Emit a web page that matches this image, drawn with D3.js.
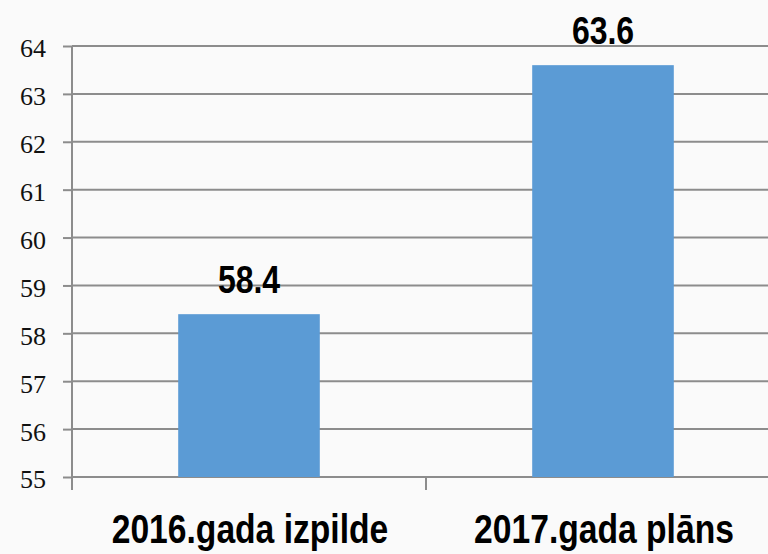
<!DOCTYPE html>
<html>
<head>
<meta charset="utf-8">
<script src="https://cdn.jsdelivr.net/npm/d3@7"></script>
<style>
  html, body { margin: 0; padding: 0; background: #fafafa; }
  svg { display: block; }
</style>
</head>
<body>
<svg id="chart" width="768" height="554"></svg>
<script>
const categories = ["2016.gada izpilde", "2017.gada plāns"];
const values = [58.4, 63.6];
const yTicks = [55, 56, 57, 58, 59, 60, 61, 62, 63, 64];

(function () {
const W = 768, H = 554;
const svg = d3.select("#chart");
svg.append("rect").attr("width", W).attr("height", H).attr("fill", "#fafafa");

const pLeft = 72, pRight = 780, pTop = 46, pBottom = 477;
const x = d3.scaleBand().domain(categories).range([pLeft, pRight])
  .paddingInner(0.6).paddingOuter(0.3);
const y = d3.scaleLinear().domain([55, 64]).range([pBottom, pTop]);

const gridColor = "#8c8c8c";
const sansBold = "'Liberation Sans', Arial, sans-serif";
const serifFont = "'Liberation Serif', Tinos, 'Times New Roman', 'DejaVu Serif', serif";
const condense = 0.82;

function narrowText(sel) {
  sel.each(function () {
    const w = this.getComputedTextLength();
    d3.select(this).attr("textLength", w * condense).attr("lengthAdjust", "spacingAndGlyphs");
  });
}

// gridlines
svg.append("g").selectAll("line").data(yTicks.filter(t => t !== 55)).join("line")
  .attr("x1", pLeft).attr("x2", W)
  .attr("y1", d => y(d)).attr("y2", d => y(d))
  .attr("stroke", gridColor).attr("stroke-width", 2);

// y axis
const yAxis = d3.axisLeft(y).tickValues(yTicks).tickSize(9).tickPadding(17).tickFormat(d3.format("d"));
const gy = svg.append("g").attr("transform", `translate(${pLeft},0)`).call(yAxis);
gy.attr("font-family", serifFont).attr("font-size", 26);
gy.select(".domain").attr("stroke", gridColor).attr("stroke-width", 2).attr("d", `M0,${y(64)}V${y(55)}`);
gy.selectAll(".tick line").attr("stroke", gridColor).attr("stroke-width", 2);
gy.selectAll(".tick text")
  .attr("font-family", serifFont)
  .attr("font-size", 26).attr("fill", "#111").attr("dy", "0.42em");

// x axis
const step = x.step();
const bounds = [0, 1, 2].map(i => pLeft + i * step);
svg.append("line").attr("x1", pLeft).attr("x2", W).attr("y1", pBottom).attr("y2", pBottom)
  .attr("stroke", gridColor).attr("stroke-width", 2);
svg.append("g").selectAll("line").data(bounds).join("line")
  .attr("x1", d => d).attr("x2", d => d).attr("y1", pBottom).attr("y2", pBottom + 13)
  .attr("stroke", gridColor).attr("stroke-width", 2);

// bars
svg.append("g").selectAll("rect").data(values).join("rect")
  .attr("x", (d, i) => x(categories[i]))
  .attr("width", x.bandwidth())
  .attr("y", d => y(d))
  .attr("height", d => y(55) - y(d))
  .attr("fill", "#5b9bd5");

// value labels
svg.append("g").selectAll("text").data(values).join("text")
  .attr("x", (d, i) => x(categories[i]) + x.bandwidth() / 2)
  .attr("y", d => y(d) - 21)
  .attr("text-anchor", "middle")
  .style("font-family", sansBold).style("font-weight", "bold").style("font-size", "39px")
  .attr("fill", "#000")
  .text(d => d.toFixed(1))
  .call(narrowText);

// category labels
svg.append("g").selectAll("text").data(categories).join("text")
  .attr("x", d => x(d) + x.bandwidth() / 2 + 1)
  .attr("y", 543)
  .attr("text-anchor", "middle")
  .style("font-family", sansBold).style("font-weight", "bold").style("font-size", "41px")
  .attr("fill", "#000")
  .text(d => d)
  .call(narrowText);
})();
</script>
</body>
</html>
